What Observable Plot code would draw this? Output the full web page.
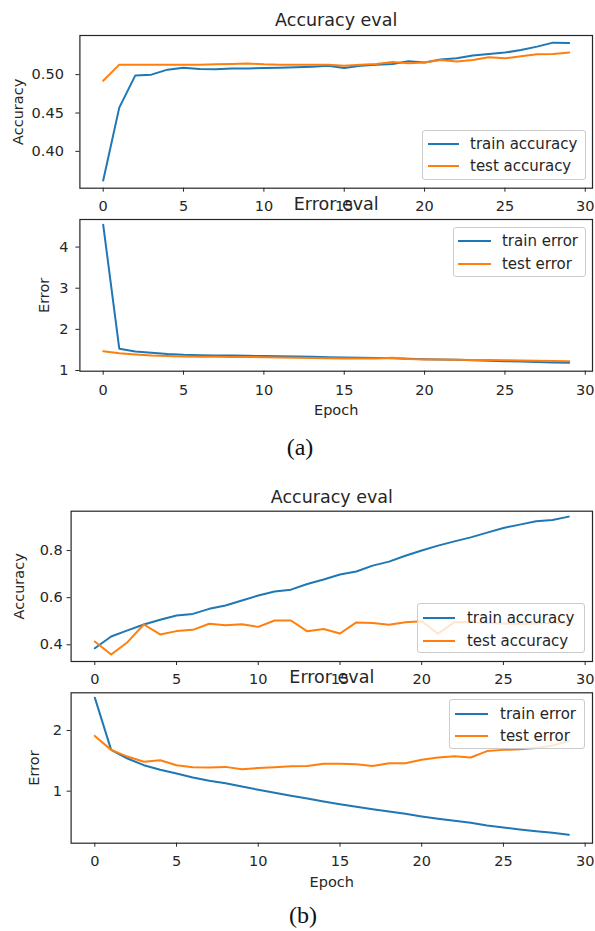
<!DOCTYPE html>
<html>
<head>
<meta charset="utf-8">
<script src="https://cdn.jsdelivr.net/npm/d3@7"></script>
<script src="https://cdn.jsdelivr.net/npm/@observablehq/plot@0.6"></script>
<style>
  html, body { margin: 0; padding: 0; background: #fff; }
  #page { position: relative; width: 595px; height: 931px; overflow: hidden; background: #fff; font-family: "DejaVu Sans", sans-serif; color: #262626; }
  .panel { position: absolute; left: 0; }
  .legend { position: absolute; background: rgba(255,255,255,0.8); border: 1px solid #cccccc; border-radius: 3px; box-sizing: border-box; }
  .legend .sample { position: absolute; height: 2px; }
  .legend .lab { position: absolute; height: 20px; line-height: 20px; font-size: 15px; white-space: nowrap; color: #262626; }
  .caption { position: absolute; font-family: "Liberation Serif", "Times New Roman", serif; font-size: 24px; color: #111; transform: translate(-50%, -50%); white-space: nowrap; }
</style>
</head>
<body>
<div id="page"></div>
<script>
// ---------------- data ----------------
const epochs = [0,1,2,3,4,5,6,7,8,9,10,11,12,13,14,15,16,17,18,19,20,21,22,23,24,25,26,27,28,29];
const xTicks = [0, 5, 10, 15, 20, 25, 30];

// (a)
const aTrainAcc = [0.362,0.457,0.499,0.500,0.5065,0.509,0.5074,0.507,0.508,0.508,0.5087,0.509,0.5095,0.5104,0.5117,0.5087,0.5117,0.513,0.514,0.5174,0.5157,0.5196,0.5213,0.5248,0.527,0.5287,0.532,0.5365,0.5417,0.5413];
const aTestAcc  = [0.492,0.513,0.513,0.513,0.513,0.513,0.513,0.5135,0.514,0.5145,0.5135,0.513,0.513,0.513,0.513,0.5117,0.513,0.514,0.5165,0.5148,0.5157,0.519,0.517,0.519,0.5226,0.5213,0.524,0.5265,0.527,0.529];
const aTrainErr = [4.54,1.53,1.46,1.43,1.40,1.38,1.373,1.365,1.362,1.356,1.35,1.345,1.338,1.332,1.325,1.316,1.31,1.303,1.296,1.288,1.276,1.27,1.262,1.252,1.24,1.227,1.218,1.208,1.197,1.187];
const aTestErr  = [1.47,1.42,1.39,1.365,1.35,1.34,1.335,1.333,1.33,1.327,1.325,1.318,1.31,1.302,1.295,1.29,1.29,1.29,1.31,1.28,1.268,1.265,1.262,1.258,1.255,1.25,1.245,1.24,1.232,1.222];

// (b)
const bTrainAcc = [0.385,0.435,0.461,0.486,0.506,0.524,0.531,0.5525,0.5665,0.588,0.609,0.626,0.634,0.658,0.677,0.698,0.711,0.736,0.753,0.778,0.80,0.821,0.839,0.856,0.876,0.896,0.91,0.924,0.93,0.944];
const bTestAcc  = [0.414,0.359,0.411,0.486,0.444,0.458,0.4635,0.489,0.483,0.487,0.476,0.503,0.503,0.457,0.467,0.448,0.495,0.492,0.485,0.496,0.50,0.447,0.496,0.497,0.492,0.49,0.488,0.49,0.493,0.49];
const bTrainErr = [2.54,1.68,1.538,1.428,1.352,1.29,1.225,1.17,1.13,1.077,1.023,0.974,0.924,0.88,0.83,0.786,0.743,0.703,0.665,0.627,0.583,0.545,0.512,0.479,0.435,0.402,0.369,0.341,0.314,0.282];
const bTestErr  = [1.91,1.68,1.57,1.484,1.51,1.428,1.395,1.39,1.40,1.362,1.38,1.395,1.41,1.416,1.45,1.45,1.445,1.416,1.46,1.46,1.517,1.555,1.575,1.555,1.66,1.68,1.69,1.71,1.75,1.83];

const accTicksA = [0.40, 0.45, 0.50];
const errTicksA = [1, 2, 3, 4];
const accTicksB = [0.4, 0.6, 0.8];
const errTicksB = [1, 2];

const C0 = "#1f77b4", C1 = "#ff7f0e";
const INK = "#262626";

// ---------------- helpers ----------------
const page = document.getElementById("page");

function panel(o) {
  const rows = epochs.map((e, i) => ({epoch: e, train: o.train[i], test: o.test[i]}));
  const marks = [
    Plot.axisX({ticks: xTicks, tickSize: 4, tickPadding: o.xPad, label: null, tickFormat: d => String(d)}),
    Plot.axisY({ticks: o.yTicks, tickSize: 4, tickPadding: o.yPad, label: null, tickFormat: o.yFmt}),
    Plot.line(rows, {x: "epoch", y: "train", stroke: C0, strokeWidth: 2}),
    Plot.line(rows, {x: "epoch", y: "test", stroke: C1, strokeWidth: 2}),
    Plot.frame({stroke: INK, strokeWidth: 1.2}),
    Plot.text([o.title], {frameAnchor: "top", lineAnchor: "middle", dy: o.titleDy, fontSize: 17.5}),
    Plot.text([o.ylabel], {frameAnchor: "left", lineAnchor: "middle", textAnchor: "middle", dx: o.ylabelDx, rotate: -90, fontSize: 14.5})
  ];
  if (o.xlabel) marks.push(Plot.text([o.xlabel], {frameAnchor: "bottom", lineAnchor: "middle", dy: 39.3, fontSize: 14.5}));
  const chart = Plot.plot({
    width: 595,
    height: o.height,
    marginLeft: o.mL,
    marginRight: 3,
    marginTop: o.mT,
    marginBottom: o.mB,
    style: {background: "transparent", fontFamily: "DejaVu Sans", fontSize: "14.5px", color: INK, overflow: "visible"},
    x: {domain: [-1.45, 30.45]},
    y: {domain: o.yDomain},
    marks
  });
  const wrap = document.createElement("div");
  wrap.className = "panel";
  wrap.style.top = o.top + "px";
  wrap.appendChild(chart);
  page.appendChild(wrap);
}

function legend(o) {
  const box = document.createElement("div");
  box.className = "legend";
  Object.assign(box.style, {left: o.left + "px", top: o.top + "px", width: o.w + "px", height: o.h + "px"});
  o.items.forEach((it, k) => {
    const s = document.createElement("div");
    s.className = "sample";
    Object.assign(s.style, {left: o.sx + "px", width: o.sw + "px", top: (o.rows[k] - 1) + "px", background: it.color});
    const t = document.createElement("div");
    t.className = "lab";
    t.textContent = it.label;
    Object.assign(t.style, {left: o.tx + "px", top: (o.rows[k] - 10) + "px"});
    box.appendChild(s);
    box.appendChild(t);
  });
  page.appendChild(box);
}

function caption(text, x, y) {
  const c = document.createElement("div");
  c.className = "caption";
  c.textContent = text;
  c.style.left = x + "px";
  c.style.top = y + "px";
  page.appendChild(c);
}

// ---------------- (a) ----------------
panel({top: 0, height: 215, mL: 79.4, mT: 35, mB: 27.3,
  yDomain: [0.352, 0.551], yTicks: accTicksA, yFmt: d3.format(".2f"), yPad: 12, xPad: 8.7,
  train: aTrainAcc, test: aTestAcc, title: "Accuracy eval", titleDy: -15,
  ylabel: "Accuracy", ylabelDx: -62});
panel({top: 190, height: 235, mL: 79.4, mT: 29, mB: 54.3,
  yDomain: [0.983, 4.67], yTicks: errTicksA, yFmt: d3.format("d"), yPad: 7.5, xPad: 9.4,
  train: aTrainErr, test: aTestErr, title: "Error eval", titleDy: -15,
  ylabel: "Error", ylabelDx: -36, xlabel: "Epoch"});

legend({left: 422, top: 130, w: 164, h: 50, sx: 5, sw: 31, tx: 47, rows: [13, 35],
  items: [{label: "train accuracy", color: C0}, {label: "test accuracy", color: C1}]});
legend({left: 452.7, top: 226.7, w: 133.3, h: 50.6, sx: 4, sw: 33.3, tx: 48.3, rows: [13.3, 36],
  items: [{label: "train error", color: C0}, {label: "test error", color: C1}]});

caption("(a)", 300, 447);

// ---------------- (b) ----------------
panel({top: 470, height: 216, mL: 70.6, mT: 40.7, mB: 25,
  yDomain: [0.329, 0.967], yTicks: accTicksB, yFmt: d3.format(".1f"), yPad: 4.4, xPad: 8,
  train: bTrainAcc, test: bTestAcc, title: "Accuracy eval", titleDy: -14,
  ylabel: "Accuracy", ylabelDx: -52});
panel({top: 660, height: 240, mL: 70.6, mT: 32.3, mB: 57.3,
  yDomain: [0.143, 2.62], yTicks: errTicksB, yFmt: d3.format("d"), yPad: 5, xPad: 9,
  train: bTrainErr, test: bTestErr, title: "Error eval", titleDy: -15,
  ylabel: "Error", ylabelDx: -36.6, xlabel: "Epoch"});

legend({left: 416.7, top: 603, w: 168.3, h: 50, sx: 5, sw: 32.3, tx: 49.3, rows: [13.7, 37],
  items: [{label: "train accuracy", color: C0}, {label: "test accuracy", color: C1}]});
legend({left: 449, top: 699, w: 136, h: 50, sx: 5, sw: 33, tx: 50, rows: [13.7, 36.3],
  items: [{label: "train error", color: C0}, {label: "test error", color: C1}]});

caption("(b)", 303, 915);
</script>
</body>
</html>
